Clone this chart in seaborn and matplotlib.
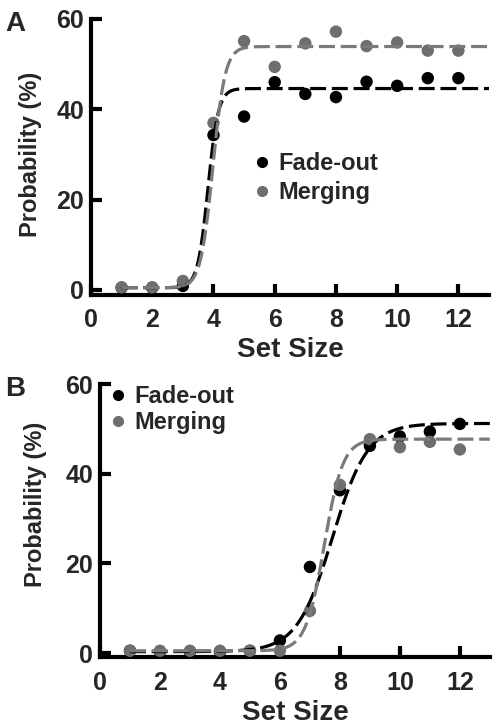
import numpy as np
import pandas as pd
import matplotlib
matplotlib.use("Agg")
import matplotlib.pyplot as plt
import seaborn as sns

set_size = [1, 2, 3, 4, 5, 6, 7, 8, 9, 10, 11, 12]

# panel A
fade_a = [0.5, 0.5, 0.9, 34.3, 38.4, 46.0, 43.4, 42.7, 46.1, 45.2, 46.9, 46.9]
merge_a = [0.6, 0.6, 2.0, 37.0, 55.1, 49.4, 54.6, 57.2, 54.0, 54.8, 53.0, 53.0]
# panel B
fade_b = [0.5, 0.3, 0.3, 0.3, 0.5, 2.8, 19.2, 36.3, 46.2, 48.3, 49.4, 51.1]
merge_b = [0.5, 0.5, 0.5, 0.5, 0.5, 0.5, 9.4, 37.5, 47.7, 45.9, 47.1, 45.4]

# sigmoid fit parameters (base, top, midpoint, slope)
fit_fade_a = (0.5, 44.6, 3.82, 0.17)
fit_merge_a = (0.5, 53.9, 3.98, 0.20)
fit_fade_b = (0.3, 51.2, 7.75, 0.59)
fit_merge_b = (0.5, 47.7, 7.48, 0.31)

x_ticks = [0, 2, 4, 6, 8, 10, 12]
y_ticks = [0, 20, 40, 60]

BLACK = "#000000"
GREY = "#6e6e6e"
GREY_LINE = "#7a7a7a"

sns.set_style("ticks")
plt.rcParams["font.family"] = ["Liberation Sans", "DejaVu Sans"]
plt.rcParams["font.weight"] = "bold"


def sigmoid_curve(params, x):
    base, top, x0, s = params
    return base + (top - base) / (1 + np.exp(-(x - x0) / s))


def dibujar_panel(ax, fade, merge, fit_fade, fit_merge):
    puntos = pd.DataFrame({
        "Set Size": set_size * 2,
        "Probability": fade + merge,
        "Grupo": ["Fade-out"] * len(fade) + ["Merging"] * len(merge),
    })
    sns.scatterplot(
        data=puntos, x="Set Size", y="Probability", hue="Grupo",
        palette={"Fade-out": BLACK, "Merging": GREY},
        s=80, edgecolor="none", ax=ax, zorder=3, legend=False,
    )

    xs = np.linspace(1, 13, 400)
    for params, color in [(fit_fade, BLACK), (fit_merge, GREY_LINE)]:
        curva = pd.DataFrame({"x": xs, "y": sigmoid_curve(params, xs)})
        sns.lineplot(data=curva, x="x", y="y", color=color, lw=2.3,
                     dashes=False, ax=ax, zorder=4)
        ax.lines[-1].set_dashes((5, 1.8))

    ax.set_xlim(0, 13)
    ax.set_ylim(-1, 60)
    ax.set_xticks(x_ticks)
    ax.set_yticks(y_ticks)
    ax.set_xlabel("Set Size", fontsize=20, fontweight="bold", labelpad=3)
    ax.set_ylabel("Probability (%)", fontsize=17, fontweight="bold")
    ax.tick_params(axis="both", direction="in", length=8, width=3,
                   labelsize=18, color=BLACK)
    ax.tick_params(axis="x", pad=10)
    ax.tick_params(axis="y", pad=5)
    for lab in ax.get_xticklabels() + ax.get_yticklabels():
        lab.set_fontweight("bold")
    sns.despine(ax=ax)
    for lado in ["left", "bottom"]:
        ax.spines[lado].set_linewidth(3)
        ax.spines[lado].set_color(BLACK)

    handles = [
        plt.Line2D([], [], marker="o", ls="none", color=BLACK, markersize=7),
        plt.Line2D([], [], marker="o", ls="none", color=GREY, markersize=7),
    ]
    return handles


fig = plt.figure(figsize=(4.96, 7.27), dpi=100)
ax_a = fig.add_axes([0.1835, 0.5949, 0.8024, 0.379])
ax_b = fig.add_axes([0.2016, 0.0956, 0.786, 0.3762])

h = dibujar_panel(ax_a, fade_a, merge_a, fit_fade_a, fit_merge_a)
ax_a.legend(h, ["Fade-out", "Merging"], loc="upper left",
            bbox_to_anchor=(0.37, 0.56), frameon=False, borderpad=0,
            handletextpad=0.2, labelspacing=0.25, handlelength=1.0,
            prop={"size": 17, "weight": "bold"})
ax_a.yaxis.set_label_coords(-0.123, 0.51)

h = dibujar_panel(ax_b, fade_b, merge_b, fit_fade_b, fit_merge_b)
ax_b.legend(h, ["Fade-out", "Merging"], loc="upper left",
            bbox_to_anchor=(-0.015, 1.04), frameon=False, borderpad=0,
            handletextpad=0.2, labelspacing=0.15, handlelength=1.0,
            prop={"size": 17, "weight": "bold"})
ax_b.yaxis.set_label_coords(-0.136, 0.56)

fig.text(0.01, 0.985, "A", fontsize=20, fontweight="bold", va="top")
fig.text(0.01, 0.483, "B", fontsize=20, fontweight="bold", va="top")

fig.savefig("out.png", dpi=100)
